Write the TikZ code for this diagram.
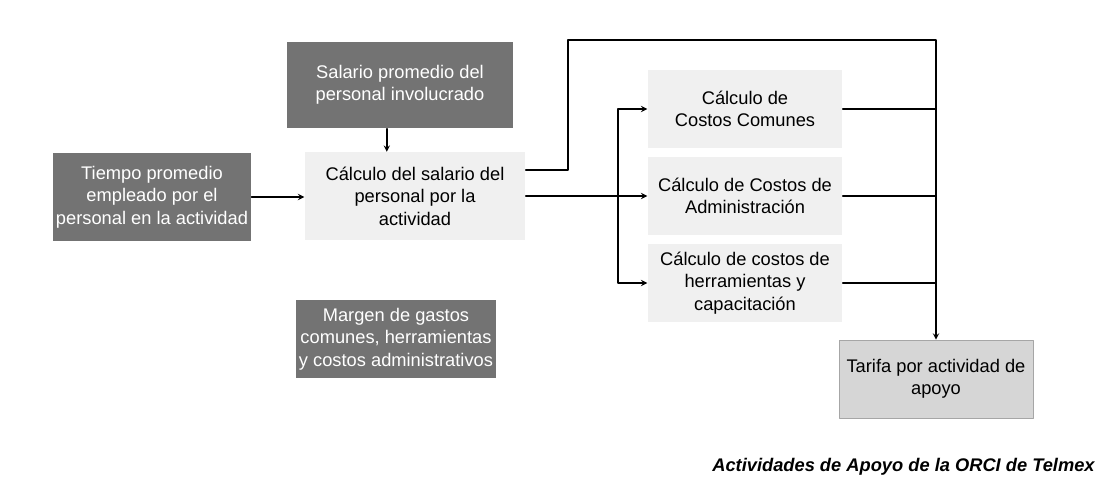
\documentclass[tikz,border=0pt]{standalone}
\usepackage{fontspec}
\setmainfont{Liberation Sans}
\begin{document}
\begin{tikzpicture}[x=0.025cm, y=-0.025cm, font=\fontsize{13}{16}\selectfont, line join=round, line cap=round, >=stealth, line width=1pt,
	oscuro/.style={fill=black!55, text=white, align=center, inner sep=2pt},
	calculo/.style={fill=black!6, align=center, inner sep=2pt, minimum width=4.85cm, minimum height=1.95cm}]
	\useasboundingbox (0,0) rectangle (1107,495);
	\node[oscuro, minimum width=5.625cm, minimum height=2.15cm] (salario) at (400,85) {Salario promedio del\\personal involucrado};
	\node[oscuro, minimum width=4.875cm, minimum height=2.175cm] (tiempo) at (152,197) {Tiempo promedio\\empleado por el\\personal en la actividad};
	\node[oscuro, minimum width=4.825cm, minimum height=1.925cm] (margen) at (396,339) {Margen de gastos\\comunes, herramientas\\y costos administrativos};
	\node[calculo, minimum width=5.5cm, minimum height=2.175cm] (salcalc) at (415,196) {Cálculo del salario del\\personal por la\\actividad};
	\node[calculo] (comunes) at (745,109) {Cálculo de\\Costos Comunes};
	\node[calculo] (admin) at (745,196) {Cálculo de Costos de\\Administración};
	\node[calculo] (herram) at (745,283) {Cálculo de costos de\\herramientas y\\capacitación};
	\node[calculo, fill=black!16, draw=black!35, thin] (tarifa) at (936,379) {Tarifa por actividad de\\apoyo};
	\path
	(568,40) coordinate (esqA)
	(936,40) coordinate (esqB)
	(618,196) coordinate (rama)
	;
	\draw[->] ([xshift=-0.33cm]salario.south) -- ([xshift=-0.33cm]salario.south |- salcalc.north);
	\draw[->] (tiempo.east) -- (tiempo.east -| salcalc.west);
	\draw[->] ([yshift=0.65cm]salcalc.east) -| (esqA) -- (esqB) -- (tarifa.north);
	\draw[->] (salcalc.east) -- (admin.west);
	\foreach \x in {comunes,herram} \draw[->] (rama) |- (\x.west);
	\foreach \x in {comunes,admin,herram} \draw (\x.east) -- (\x.east -| esqB);
	\node[anchor=east, font=\fontsize{13}{15}\selectfont\bfseries\itshape] (pie) at (1100,467) {Actividades de Apoyo de la ORCI de Telmex};
\end{tikzpicture}
\end{document}
